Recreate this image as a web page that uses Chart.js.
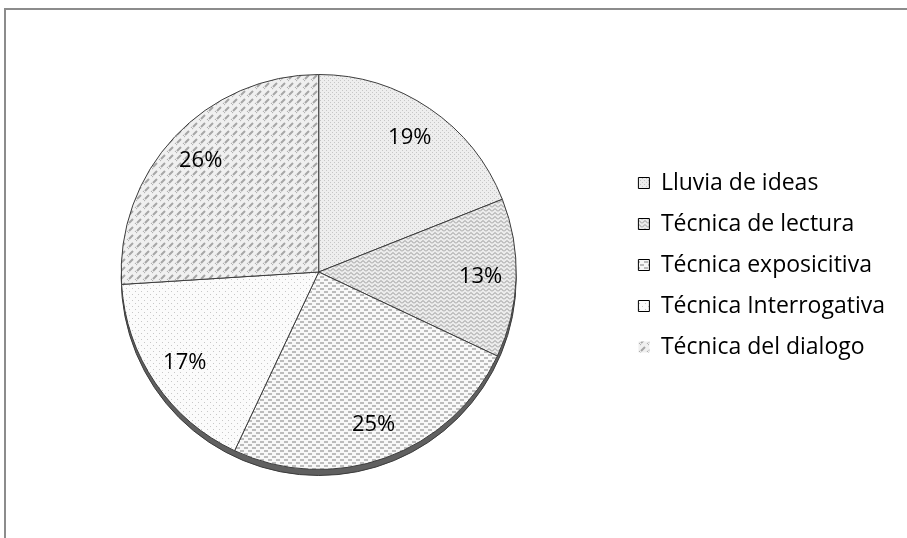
<!DOCTYPE html>
<html>
<head>
<meta charset="utf-8">
<script src="https://cdn.jsdelivr.net/npm/chart.js@4.4.1/dist/chart.umd.min.js"></script>
<style>
  html, body { margin: 0; padding: 0; background: #fff; overflow: hidden; }
  #frame {
    position: absolute; left: 4px; top: 8px; width: 1000px; height: 1000px;
    border-top: 2px solid #8c8c8c; border-left: 2px solid #8c8c8c;
  }
  #wrap { position: absolute; left: 0; top: 0; width: 907px; height: 538px; }
</style>
</head>
<body>
<div id="frame"></div>
<div id="wrap"><canvas id="pieTecnicas"></canvas></div>
<script>
var categories = ['Lluvia de ideas', 'Técnica de lectura', 'Técnica exposicitiva', 'Técnica Interrogativa', 'Técnica del dialogo'];
var values = [19, 13, 25, 17, 26];
var valueLabels = ['19%', '13%', '25%', '17%', '26%'];

(function() {
  'use strict';
  const canvas = document.getElementById('pieTecnicas');
  const ctx = canvas.getContext('2d');

  // small grey hatch tiles, like the office patterns
  function makePattern(w, h, bg, draw) {
    var c = document.createElement('canvas');
    c.width = w; c.height = h;
    var g = c.getContext('2d');
    g.fillStyle = bg;
    g.fillRect(0, 0, w, h);
    draw(g);
    return ctx.createPattern(c, 'repeat');
  }

  var dotted = makePattern(4, 4, '#eeeeee', function(g) {
    g.fillStyle = '#c6c6c6';
    g.fillRect(0, 0, 1, 1);
    g.fillRect(2, 2, 1, 1);
  });
  var zigzag = makePattern(6, 4, '#ececec', function(g) {
    g.strokeStyle = '#969696';
    g.lineWidth = 1;
    g.beginPath();
    g.moveTo(0, 3.5); g.lineTo(3, 0.5); g.lineTo(6, 3.5);
    g.stroke();
  });
  var dashes = makePattern(8, 6, '#f8f8f8', function(g) {
    g.fillStyle = '#bcbcbc';
    g.fillRect(0, 0, 4, 2);
    g.fillRect(4, 3, 4, 2);
  });
  var sparse = makePattern(6, 6, '#fbfbfb', function(g) {
    g.fillStyle = '#c8c8c8';
    g.fillRect(0, 0, 1, 1);
    g.fillRect(3, 3, 1, 1);
  });
  var weave = makePattern(8, 8, '#f0f0f0', function(g) {
    g.strokeStyle = '#a6a6a6';
    g.lineWidth = 2;
    g.beginPath();
    g.moveTo(1, 7); g.lineTo(5, 3);
    g.moveTo(5, 11); g.lineTo(9, 7);
    g.moveTo(-3, 3); g.lineTo(1, -1);
    g.stroke();
  });
  var fills = [dotted, zigzag, dashes, sparse, weave];

  // darker rim under the pie (3d side)
  const pieShadow = {
    id: 'pieShadow',
    beforeDatasetsDraw: function(chart) {
      var arc = chart.getDatasetMeta(0).data[0];
      if (!arc) return;
      var c = chart.ctx;
      c.save();
      c.beginPath();
      c.arc(arc.x, arc.y + 6, arc.outerRadius, 0, Math.PI * 2);
      c.fillStyle = '#606060';
      c.fill();
      c.lineWidth = 1;
      c.strokeStyle = '#3a3a3a';
      c.stroke();
      c.restore();
    }
  };

  // legend sits a bit higher than the pie centre
  const legendNudge = {
    id: 'legendNudge',
    afterLayout: function(chart) {
      if (chart.legend) {
        chart.legend.top -= 7;
        chart.legend.bottom -= 7;
      }
    }
  };

  // percentage labels inside each slice
  const sliceLabels = {
    id: 'sliceLabels',
    afterDatasetsDraw: function(chart) {
      var c = chart.ctx;
      c.save();
      c.font = '22px "Open Sans"';
      c.fillStyle = '#000';
      c.textAlign = 'center';
      c.textBaseline = 'middle';
      chart.getDatasetMeta(0).data.forEach(function(arc, i) {
        var p = arc.getProps(['x', 'y', 'startAngle', 'endAngle', 'outerRadius'], true);
        var mid = (p.startAngle + p.endAngle) / 2;
        var r = p.outerRadius * 0.82;
        c.fillText(valueLabels[i], p.x + Math.cos(mid) * r, p.y + Math.sin(mid) * r);
      });
      c.restore();
    }
  };

  new Chart(canvas, {
    type: 'pie',
    data: {
      labels: categories,
      datasets: [{
        data: values,
        backgroundColor: fills,
        borderColor: '#3c3c3c',
        borderWidth: 1
      }]
    },
    options: {
      responsive: true,
      maintainAspectRatio: false,
      animation: false,
      events: [],
      layout: {
        padding: { left: 17, right: 12, top: 74, bottom: 68 }
      },
      plugins: {
        tooltip: { enabled: false },
        legend: {
          display: true,
          position: 'right',
          labels: {
            boxWidth: 11,
            boxHeight: 11,
            padding: 18,
            color: '#000',
            font: { family: '"Open Sans"', size: 23 },
            generateLabels: function(chart) {
              return categories.map(function(name, i) {
                var last = i === categories.length - 1;
                return {
                  text: name,
                  fillStyle: fills[i],
                  strokeStyle: last ? 'rgba(0,0,0,0)' : '#000',
                  lineWidth: last ? 0 : 1,
                  fontColor: '#000',
                  hidden: false,
                  index: i
                };
              });
            }
          }
        }
      }
    },
    plugins: [pieShadow, legendNudge, sliceLabels]
  });
})();
</script>
</body>
</html>
